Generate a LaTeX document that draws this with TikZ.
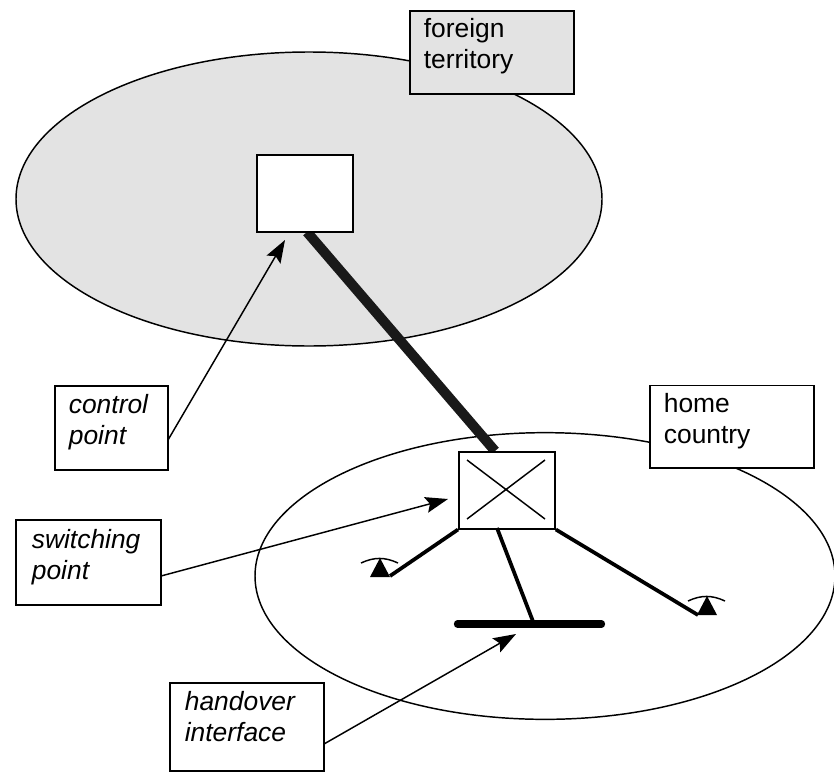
\documentclass[tikz,border=0pt]{standalone}
\usepackage{fontspec}
\setmainfont{Liberation Sans}
\usetikzlibrary{arrows.meta,shapes.geometric}
\definecolor{territory}{gray}{0.89}
\tikzstyle{region} = [ellipse, draw, inner sep=0pt, line width=1.1pt]
\tikzstyle{note} = [rectangle, draw, fill=white, anchor=north west, inner ysep=0pt,
    align=left, font=\fontsize{19.8pt}{23.25pt}\selectfont, line width=1.3pt]
\tikzstyle{point} = [rectangle, draw, fill=white, anchor=north west, inner sep=0pt, line width=1.4pt]
\tikzstyle{pointer} = [-{Stealth[length=17pt,width=12pt,inset=3pt]}, line width=1.1pt]
\tikzstyle{trunk} = [line width=2.8pt]

\begin{document}
\begin{tikzpicture}[x=0.75pt,y=-0.75pt]
  \useasboundingbox (0,0) rectangle (834,771);

  % regions
  \node[region,fill=territory,minimum width=439.5pt,minimum height=220.5pt] (foreign) at (309,199) {};
  \node[region,minimum width=435pt,minimum height=215pt]                    (home)    at (545,576) {};

  % free ends of the pointers and the phones
  \coordinate (controltip)   at (285,240);
  \coordinate (switchtip)    at (448,499);
  \coordinate (handovertip)  at (516,634);
  \coordinate (controlfoot)  at (168,440);
  \coordinate (switchfoot)   at (161,576);
  \coordinate (handoverfoot) at (324,744);
  \coordinate (phoneleft)    at (380,577);
  \coordinate (phoneright)   at (707,615);

  % boxes with text
  \node[note,fill=territory,text width=102pt,inner xsep=10.5pt,text height=20.25pt,text depth=42pt] (foreignnote) at (409,10)
    {foreign\\territory};
  \node[note,text width=102pt,inner xsep=10.5pt,text height=20.6pt,text depth=41.3pt] (homenote) at (649,384.5)
    {home\\country};
  \node[note,text width=64pt,inner xsep=10.5pt,text height=21pt,text depth=42pt] (controlnote) at (54,385)
    {\itshape control\\\itshape point};
  \node[note,text width=85pt,inner xsep=12pt,text height=21.75pt,text depth=42pt] (switchnote) at (15,519)
    {\itshape switching\\\itshape point};
  \node[note,text width=93pt,inner xsep=11.25pt,text height=21pt,text depth=45pt] (handovernote) at (169,682)
    {\itshape handover\\\itshape interface};

  % connection between the points
  \draw[line width=7.5pt,color=black!90] (307,232) -- (495,451);

  % points
  \node[point,minimum width=72pt,minimum height=57.5pt] (controlbox) at (256,154) {};
  \node[point,minimum width=72pt,minimum height=57.5pt] (switchbox)  at (458,451) {};
  \draw[line width=1.1pt] (467,460) -- (545,519)
                          (467,519) -- (545,460);

  % lines below the switching point
  \draw[trunk] (switchbox.south west) -- (390,576);
  \draw[trunk] (switchbox.south east) -- (698,615);
  \draw[trunk] (497,528) -- (534,624);
  \draw[line width=5.5pt,line cap=round] (457.5,624) -- (601.5,624);

  % phones
  \foreach \phone in {phoneleft,phoneright} {
    \fill (\phone) ++(-10,0) -- ++(20,0) -- ++(-10,-19) -- cycle;
    \draw[line width=1.1pt] (\phone) ++(-19,-14) to[bend left=25] ++(37,0);
  }

  % pointers
  \path[pointer] (controlfoot) edge (controltip)
                 (switchfoot) edge (switchtip)
                 (handoverfoot) edge (handovertip);
\end{tikzpicture}
\end{document}
